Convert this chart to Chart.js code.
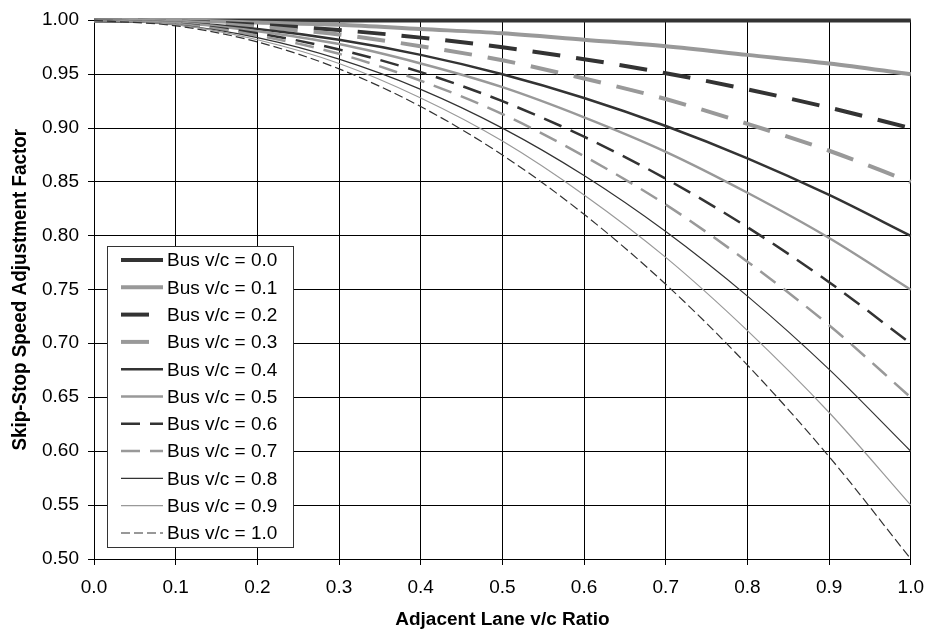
<!DOCTYPE html>
<html>
<head>
<meta charset="utf-8">
<script src="https://cdn.jsdelivr.net/npm/chart.js@4"></script>
<style>
html,body{margin:0;padding:0;background:#fff;}
#wrap{width:936px;height:630px;}
</style>
</head>
<body>
<div id="wrap"><canvas id="c" width="936" height="630"></canvas></div>
<script>
// Adjacent lane v/c ratio (x)
const adjacentVC = [0.0, 0.1, 0.2, 0.3, 0.4, 0.5, 0.6, 0.7, 0.8, 0.9, 1.0];
const seriesNames = ["Bus v/c = 0.0","Bus v/c = 0.1","Bus v/c = 0.2","Bus v/c = 0.3","Bus v/c = 0.4","Bus v/c = 0.5","Bus v/c = 0.6","Bus v/c = 0.7","Bus v/c = 0.8","Bus v/c = 0.9","Bus v/c = 1.0"];
const bus00 = [1.000, 1.000, 1.000, 1.000, 1.000, 1.000, 1.000, 1.000, 1.000, 1.000, 1.000];
const bus01 = [1.000, 1.000, 0.998, 0.996, 0.992, 0.988, 0.982, 0.976, 0.968, 0.960, 0.950];
const bus02 = [1.000, 0.999, 0.996, 0.991, 0.984, 0.975, 0.964, 0.951, 0.936, 0.919, 0.900];
const bus03 = [1.000, 0.999, 0.994, 0.987, 0.976, 0.963, 0.946, 0.927, 0.904, 0.879, 0.850];
const bus04 = [1.000, 0.998, 0.992, 0.982, 0.968, 0.950, 0.928, 0.902, 0.872, 0.838, 0.800];
const bus05 = [1.000, 0.998, 0.990, 0.978, 0.960, 0.938, 0.910, 0.878, 0.840, 0.798, 0.750];
const bus06 = [1.000, 0.997, 0.988, 0.973, 0.952, 0.925, 0.892, 0.853, 0.808, 0.757, 0.700];
const bus07 = [1.000, 0.997, 0.986, 0.969, 0.944, 0.913, 0.874, 0.829, 0.776, 0.717, 0.650];
const bus08 = [1.000, 0.996, 0.984, 0.964, 0.936, 0.900, 0.856, 0.804, 0.744, 0.676, 0.600];
const bus09 = [1.000, 0.996, 0.982, 0.960, 0.928, 0.888, 0.838, 0.780, 0.712, 0.636, 0.550];
const bus10 = [1.000, 0.995, 0.980, 0.955, 0.920, 0.875, 0.820, 0.755, 0.680, 0.595, 0.500];
const allSeries = [bus00, bus01, bus02, bus03, bus04, bus05, bus06, bus07, bus08, bus09, bus10];
const xTickLabels = ["0.0","0.1","0.2","0.3","0.4","0.5","0.6","0.7","0.8","0.9","1.0"];
const yTickLabels = ["0.50","0.55","0.60","0.65","0.70","0.75","0.80","0.85","0.90","0.95","1.00"];

const DARK = "#333333", GRAY = "#999999";
const styles = [
  {c:DARK, w:4,   d:[]},
  {c:GRAY, w:4,   d:[]},
  {c:DARK, w:4,   d:[28,16]},
  {c:GRAY, w:4,   d:[28,16]},
  {c:DARK, w:2.5, d:[]},
  {c:GRAY, w:2.5, d:[]},
  {c:DARK, w:2.5, d:[19,10]},
  {c:GRAY, w:2.5, d:[19,10]},
  {c:DARK, w:1.2, d:[]},
  {c:GRAY, w:1.2, d:[]},
  {c:DARK, w:1.2, d:[9,4]}
];

// The reference text is slightly compressed vertically; draw text the same way.
const SQ = 0.92;
const origFillText = CanvasRenderingContext2D.prototype.fillText;
CanvasRenderingContext2D.prototype.fillText = function (t, x, y, mw) {
  const m = this.getTransform();
  const py = m.b * x + m.d * y + m.f;
  this.save();
  this.setTransform(1, 0, 0, SQ, 0, py * (1 - SQ));
  this.transform(m.a, m.b, m.c, m.d, m.e, m.f);
  if (mw === undefined) origFillText.call(this, t, x, y);
  else origFillText.call(this, t, x, y, mw);
  this.restore();
};

const datasets = allSeries.map((vals, i) => ({
  label: seriesNames[i],
  data: vals.map((v, j) => ({x: adjacentVC[j], y: v})),
  borderColor: styles[i].c,
  borderWidth: styles[i].w,
  borderDash: styles[i].d,
  pointRadius: 0,
  fill: false,
  cubicInterpolationMode: 'monotone',
  clip: 6
})).reverse();

const FONT = "'Liberation Sans', Arial, sans-serif";

const legendPlugin = {
  id: 'boxLegend',
  afterDatasetsDraw(chart) {
    const ctx = chart.ctx;
    const L = 107, T = 246, R = 293, B = 547;
    ctx.save();
    ctx.fillStyle = '#ffffff';
    ctx.fillRect(L, T, R - L, B - T);
    ctx.strokeStyle = '#333333';
    ctx.lineWidth = 1;
    ctx.setLineDash([]);
    ctx.strokeRect(L + 0.5, T + 0.5, R - L, B - T);
    ctx.font = "19px " + FONT;
    ctx.textBaseline = 'middle';
    ctx.textAlign = 'left';
    for (let i = 0; i < seriesNames.length; i++) {
      const y = 260 + i * 27.3;
      const s = styles[i];
      ctx.strokeStyle = s.c;
      ctx.lineWidth = s.w;
      ctx.setLineDash(s.d);
      ctx.beginPath();
      ctx.moveTo(121, y);
      ctx.lineTo(163, y);
      ctx.stroke();
      ctx.setLineDash([]);
      ctx.fillStyle = '#000000';
      ctx.fillText(seriesNames[i], 167, y + 1.5);
    }
    ctx.restore();
  }
};

new Chart(document.getElementById('c'), {
  type: 'line',
  data: { datasets },
  options: {
    responsive: false,
    animation: false,
    devicePixelRatio: 1,
    layout: { padding: { top: 20, right: 18, left: 0, bottom: 0 } },
    plugins: { legend: { display: false }, tooltip: { enabled: false } },
    scales: {
      x: {
        type: 'linear', min: 0, max: 1,
        afterFit(s) { s.height = 71; },
        afterBuildTicks(s) { s.ticks = adjacentVC.map(v => ({value: v})); },
        ticks: {
          callback: (v, i) => xTickLabels[i],
          color: '#000', font: { family: FONT, size: 19 }, padding: 12, maxRotation: 0, autoSkip: false
        },
        grid: { color: '#000', lineWidth: 1, tickLength: 6, drawTicks: true },
        border: { color: '#000', width: 1 },
        title: { display: true, text: 'Adjacent Lane v/c Ratio', color: '#000',
                 font: { family: FONT, size: 19, weight: 'bold', lineHeight: 1 }, padding: { top: 0, bottom: 0 } }
      },
      y: {
        type: 'linear', min: 0.5, max: 1.0,
        afterFit(s) { s.width = 94; },
        afterBuildTicks(s) { s.ticks = yTickLabels.map(t => ({value: parseFloat(t)})); },
        ticks: {
          callback: (v, i) => yTickLabels[i],
          color: '#000', font: { family: FONT, size: 19 }, padding: 9, autoSkip: false
        },
        grid: { color: '#000', lineWidth: 1, tickLength: 6, drawTicks: true },
        border: { color: '#000', width: 1 },
        title: { display: true, text: 'Skip-Stop Speed Adjustment Factor', color: '#000',
                 font: { family: FONT, size: 20.5, weight: 'bold', lineHeight: 1 }, padding: { top: 10, bottom: 0 } }
      }
    }
  },
  plugins: [legendPlugin]
});
</script>
</body>
</html>
